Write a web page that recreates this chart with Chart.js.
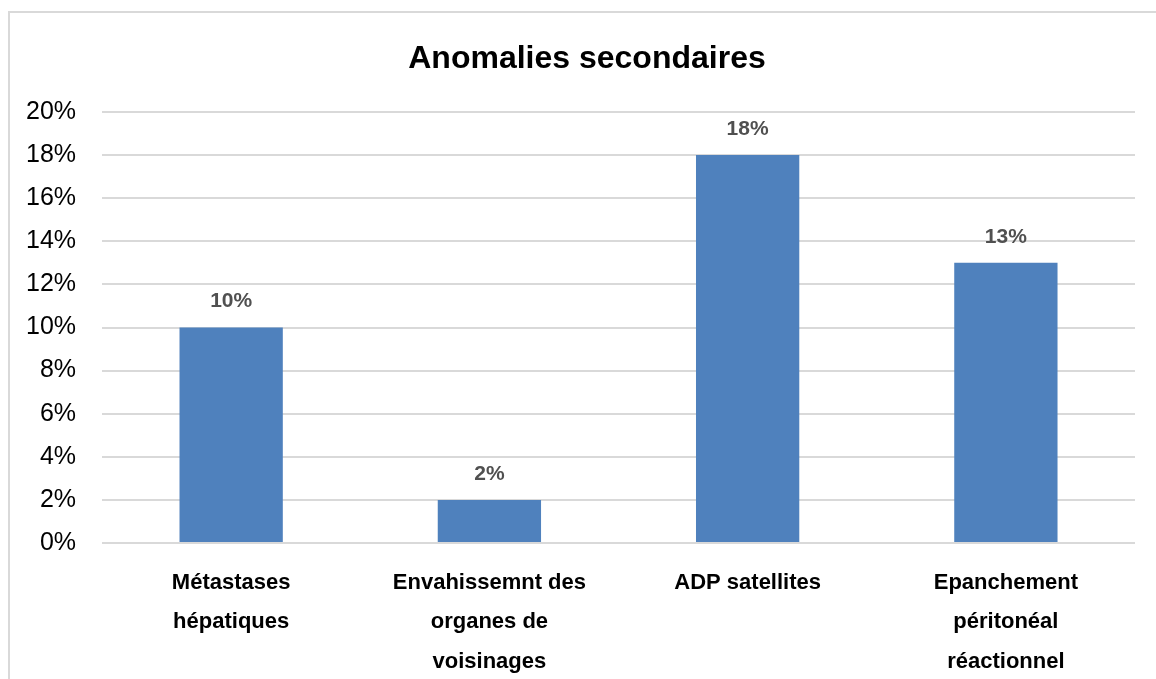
<!DOCTYPE html>
<html>
<head>
<meta charset="utf-8">
<script src="https://cdn.jsdelivr.net/npm/chart.js@4"></script>
<style>
  html, body { margin: 0; padding: 0; background: #fff; overflow: hidden; }
  #wrap { position: absolute; left: 0; top: 0; width: 1156px; height: 679px; }
</style>
</head>
<body>
<div id="wrap"><canvas id="chart1"></canvas></div>
<script>
var categories = [
    ['Métastases', 'hépatiques'],
    ['Envahissemnt des', 'organes de', 'voisinages'],
    'ADP satellites',
    ['Epanchement', 'péritonéal', 'réactionnel']
];
var values = [10, 2, 18, 13];
var chartTitle = 'Anomalies secondaires';

var narrowFont = "'Liberation Sans Narrow', 'Arial Narrow', 'Liberation Sans', sans-serif";

// light grey frame around the whole chart + title centred on the frame
var frame = {
    id: 'frame',
    beforeDraw: function (chart) {
        var ctx = chart.ctx;
        ctx.save();
        ctx.strokeStyle = '#d9d9d9';
        ctx.lineWidth = 2;
        ctx.strokeRect(9, 12, 1200, 800);
        ctx.fillStyle = '#000';
        ctx.font = "bold 32px " + narrowFont;
        ctx.textAlign = 'center';
        ctx.textBaseline = 'middle';
        ctx.fillText(chartTitle, 587, 59);
        ctx.restore();
    }
};

// value labels above bars
var barLabels = {
    id: 'barLabels',
    afterDatasetsDraw: function (chart) {
        var ctx = chart.ctx;
        var meta = chart.getDatasetMeta(0);
        ctx.save();
        ctx.font = "bold 21px 'Liberation Sans', Arial, sans-serif";
        ctx.fillStyle = '#505050';
        ctx.textAlign = 'center';
        ctx.textBaseline = 'middle';
        meta.data.forEach(function (bar, i) {
            ctx.fillText(chart.data.datasets[0].data[i] + '%', bar.x, bar.y - 26);
        });
        ctx.restore();
    }
};

var ctx = document.getElementById('chart1').getContext('2d');
var myChart1 = new Chart(ctx, {
    type: 'bar',
    data: {
        labels: categories,
        datasets: [{
            data: values,
            backgroundColor: '#4f81bd',
            categoryPercentage: 1,
            barPercentage: 0.4
        }]
    },
    options: {
        responsive: true,
        maintainAspectRatio: false,
        animation: false,
        layout: { padding: { left: 0, right: 21, top: 112, bottom: 0 } },
        plugins: {
            legend: { display: false },
            tooltip: { enabled: false },
            title: { display: false }
        },
        scales: {
            x: {
                grid: { display: false },
                border: { display: false },
                ticks: {
                    color: '#000',
                    font: { family: narrowFont, size: 22, weight: 'bold', lineHeight: 1.8 },
                    padding: 12,
                    maxRotation: 0,
                    autoSkip: false
                },
                afterFit: function (scale) { scale.height = 136; }
            },
            y: {
                min: 0,
                max: 20,
                ticks: {
                    stepSize: 2,
                    color: '#000',
                    font: { family: "'Liberation Sans', Arial, sans-serif", size: 25 },
                    padding: 26,
                    callback: function (v) { return v + '%'; }
                },
                grid: { color: '#d9d9d9', lineWidth: 2, drawTicks: false },
                border: { display: false }
            }
        }
    },
    plugins: [frame, barLabels]
});
</script>
</body>
</html>
